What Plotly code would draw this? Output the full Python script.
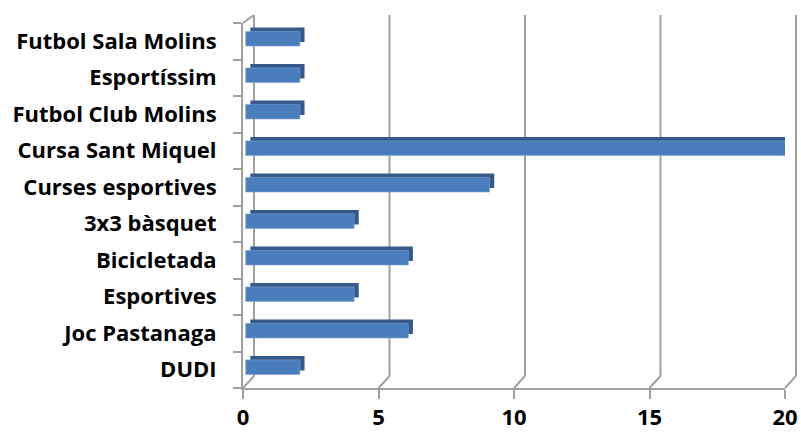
import plotly.graph_objects as go

categories = ["DUDI", "Joc Pastanaga", "Esportives", "Bicicletada", "3x3 bàsquet",
              "Curses esportives", "Cursa Sant Miquel", "Futbol Club Molins",
              "Esportíssim", "Futbol Sala Molins"]
values = [2, 6, 4, 6, 4, 9, 20, 2, 2, 2]
x_ticks = [0, 5, 10, 15, 20]
X_MAX = 20

W, H = 801, 432
ML, MR, MT, MB = 243, 4, 15, 44
PW, PH = W - ML - MR, H - MT - MB
DX, DY = 11, 12          # depth offset of back wall (px)
FRONT_W = 542            # width of front plane in px
FRONT_H = 365            # height of front plane in px
XDOM = FRONT_W / PW

GRID = "#a0a0a0"
FONT = dict(family="'Open Sans', Lato, sans-serif", size=22, color="#000000",
            weight="bold")

fig = go.Figure()

# top/side faces (shifted back)
fig.add_trace(go.Bar(
    y=categories, x=values, base=0.27, orientation="h",
    width=0.40, offset=-0.02, cliponaxis=False,
    marker=dict(color="#35598a", line=dict(width=0)),
    hoverinfo="skip", showlegend=False,
))
# front faces
fig.add_trace(go.Bar(
    y=categories, x=values, base=0.1, orientation="h",
    width=0.40, offset=-0.13, cliponaxis=False,
    marker=dict(color="#4a7dbb", line=dict(color="#7fa3d3", width=0.6)),
    showlegend=False,
))

shapes = []
for t in x_ticks:
    xp = t / X_MAX * XDOM
    # floor diagonal
    shapes.append(dict(type="line", xref="paper", yref="paper",
                       xsizemode="pixel", ysizemode="pixel",
                       xanchor=xp, yanchor=0, x0=0, x1=DX, y0=0, y1=DY,
                       line=dict(color=GRID, width=2), layer="below"))
    # back-wall gridline
    shapes.append(dict(type="line", xref="paper", yref="paper",
                       xsizemode="pixel", ysizemode="pixel",
                       xanchor=xp, yanchor=0, x0=DX, x1=DX, y0=DY, y1=PH,
                       line=dict(color=GRID, width=2), layer="below"))
# left wall top diagonal
shapes.append(dict(type="line", xref="paper", yref="paper",
                   xsizemode="pixel", ysizemode="pixel",
                   xanchor=0, yanchor=FRONT_H / PH, x0=0, x1=DX, y0=0, y1=8,
                   line=dict(color=GRID, width=2), layer="below"))

fig.update_layout(
    width=W, height=H,
    margin=dict(l=ML, r=MR, t=MT, b=MB, pad=0, autoexpand=False),
    paper_bgcolor="white", plot_bgcolor="rgba(0,0,0,0)",
    barmode="overlay",
    shapes=shapes,
    xaxis=dict(domain=[0, XDOM], range=[0, X_MAX], tickvals=x_ticks,
               automargin=False,
               showgrid=False, zeroline=False,
               showline=True, linecolor=GRID, linewidth=2,
               ticks="outside", ticklen=9, tickwidth=2, tickcolor=GRID,
               tickfont=FONT, anchor="y"),
    yaxis=dict(domain=[0, FRONT_H / PH], range=[-0.5, 9.5], type="category",
               categoryorder="array", categoryarray=categories,
               automargin=False,
               showgrid=False, zeroline=False,
               showline=True, linecolor=GRID, linewidth=2,
               ticks="outside", ticklen=8, tickwidth=2, tickcolor=GRID,
               tickson="boundaries", ticklabelstandoff=20,
               tickfont=FONT, anchor="x"),
)

fig.write_html(
    "out.html",
    config={"displayModeBar": False},
    post_script=("document.documentElement.style.margin='0';"
                 "document.documentElement.style.overflow='hidden';"
                 "document.body.style.margin='0';"
                 "document.body.style.overflow='hidden';"),
)
